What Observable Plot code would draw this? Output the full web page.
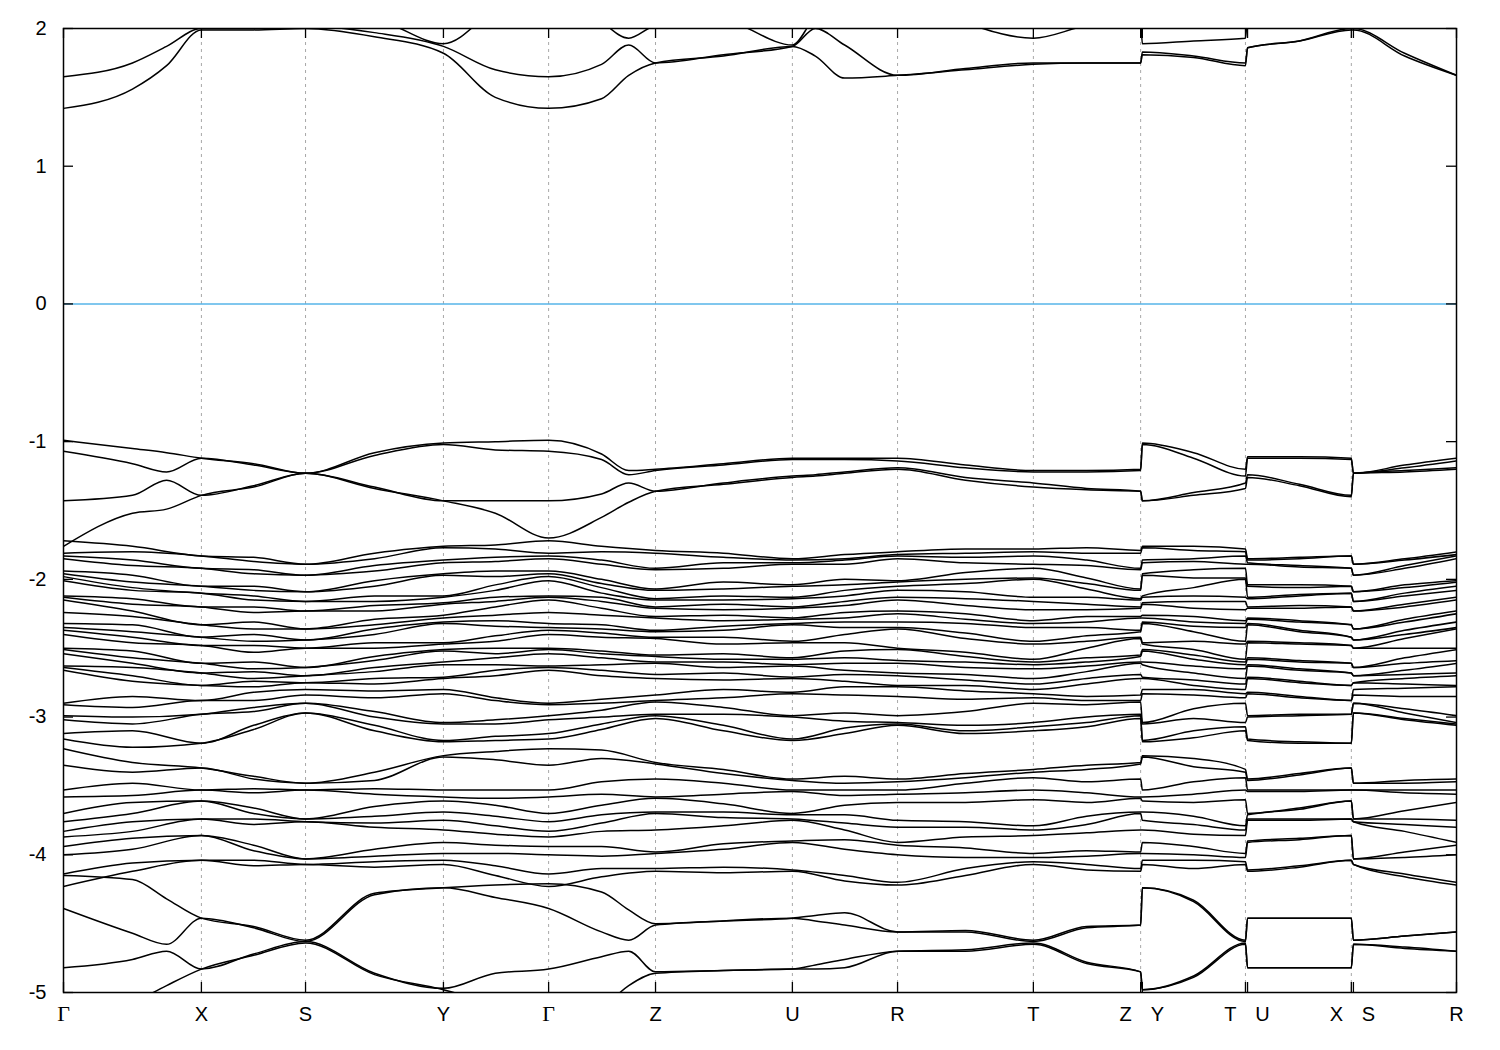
<!DOCTYPE html>
<html><head><meta charset="utf-8">
<script src="https://cdn.jsdelivr.net/npm/d3@7"></script>
<script src="https://cdn.jsdelivr.net/npm/@observablehq/plot@0.6"></script>
<style>html,body{margin:0;padding:0;background:#fff} svg{display:block}</style>
</head><body><div id="chart"></div>
<script>
// k-path knots (high-symmetry points and segment midpoints) for the dense group
const kKnots = [0, 0.198, 0.396, 0.546, 0.695, 0.893, 1.091, 1.240, 1.393, 1.545, 1.700, 1.895, 2.093, 2.243, 2.395, 2.590, 2.785, 2.938, 3.093, 3.098, 3.245, 3.394, 3.400, 3.549, 3.698, 3.704, 3.851, 4.000];
// finer knots for the isolated groups (three extra points: near X on Γ-X, near Z on Γ-Z, near U on U-R)
const kFine = [0, 0.198, 0.296, 0.396, 0.546, 0.695, 0.893, 1.091, 1.240, 1.393, 1.545, 1.623, 1.700, 1.895, 2.093, 2.159, 2.243, 2.395, 2.590, 2.785, 2.938, 3.093, 3.098, 3.245, 3.394, 3.400, 3.549, 3.698, 3.704, 3.851, 4.000];
const tickK = [0, 0.396, 0.695, 1.091, 1.393, 1.700, 2.093, 2.395, 2.785, 3.093, 3.098, 3.394, 3.400, 3.698, 3.704, 4.000];
const tickLabels = ["Γ","X","S","Y","Γ","Z","U","R","T","Z","Y","T","U","X","S","R"];
const labelSide = ["c","c","c","c","c","c","c","c","c","l","r","l","r","l","r","c"];
const gridK = [0.396, 0.695, 1.091, 1.393, 1.700, 2.093, 2.395, 2.785, 3.093, 3.394, 3.698];
const yTicks = [-5,-4,-3,-2,-1,0,1,2];

// conduction bands (eV), on kFine
const c1 = [1.42,1.56,1.73,1.99,1.99,2.00,1.94,1.82,1.50,1.42,1.49,1.66,1.75,1.80,1.87,1.80,1.64,1.66,1.70,1.74,1.75,1.75,1.81,1.79,1.73,1.86,1.91,1.99,1.99,1.80,1.66];
const c2 = [1.65,1.75,1.87,2.00,2.00,2.02,1.97,1.87,1.70,1.65,1.74,1.88,1.75,1.81,1.87,2.00,1.88,1.66,1.71,1.75,1.75,1.75,1.83,1.80,1.75,1.86,1.91,2.00,2.00,1.82,1.66];
const c3 = [2.40,2.25,2.12,2.05,2.06,2.08,2.06,1.89,2.15,2.40,2.05,1.93,2.02,2.05,1.88,2.08,2.15,2.25,2.04,1.93,2.02,2.05,1.89,1.91,1.93,2.08,2.10,2.05,2.05,2.20,2.25];

// top valence group, on kFine
const v1 = [-0.99,-1.05,-1.08,-1.12,-1.16,-1.23,-1.08,-1.01,-1.00,-0.99,-1.09,-1.21,-1.20,-1.16,-1.12,-1.12,-1.12,-1.12,-1.17,-1.21,-1.21,-1.20,-1.01,-1.08,-1.20,-1.11,-1.11,-1.12,-1.23,-1.17,-1.12];
const v2 = [-1.07,-1.16,-1.22,-1.12,-1.17,-1.23,-1.10,-1.02,-1.06,-1.07,-1.13,-1.24,-1.21,-1.17,-1.13,-1.13,-1.13,-1.14,-1.19,-1.22,-1.22,-1.21,-1.02,-1.12,-1.25,-1.12,-1.12,-1.13,-1.23,-1.19,-1.14];
const v3 = [-1.43,-1.39,-1.28,-1.39,-1.32,-1.23,-1.33,-1.43,-1.43,-1.43,-1.38,-1.30,-1.36,-1.30,-1.25,-1.24,-1.22,-1.19,-1.26,-1.30,-1.34,-1.36,-1.43,-1.37,-1.30,-1.24,-1.31,-1.39,-1.23,-1.21,-1.19];
const v4 = [-1.76,-1.52,-1.49,-1.39,-1.33,-1.23,-1.34,-1.43,-1.52,-1.70,-1.55,-1.44,-1.36,-1.31,-1.26,-1.25,-1.23,-1.20,-1.28,-1.33,-1.35,-1.36,-1.43,-1.39,-1.34,-1.26,-1.32,-1.40,-1.23,-1.22,-1.20];

// lowest group, on kFine
const b1 = [-4.15,-4.18,-4.32,-4.46,-4.52,-4.62,-4.28,-4.24,-4.22,-4.21,-4.27,-4.40,-4.50,-4.48,-4.46,-4.44,-4.42,-4.56,-4.55,-4.62,-4.52,-4.51,-4.24,-4.33,-4.62,-4.46,-4.46,-4.46,-4.62,-4.59,-4.56];
const b2 = [-4.39,-4.57,-4.65,-4.46,-4.53,-4.63,-4.29,-4.24,-4.31,-4.39,-4.56,-4.62,-4.51,-4.48,-4.46,-4.48,-4.51,-4.56,-4.56,-4.63,-4.53,-4.51,-4.24,-4.34,-4.63,-4.46,-4.46,-4.46,-4.62,-4.59,-4.56];
const b3 = [-4.82,-4.76,-4.70,-4.83,-4.72,-4.63,-4.86,-4.97,-4.86,-4.83,-4.74,-4.70,-4.85,-4.84,-4.83,-4.80,-4.76,-4.70,-4.69,-4.64,-4.78,-4.85,-4.98,-4.88,-4.64,-4.82,-4.82,-4.82,-4.65,-4.67,-4.70];
const b4 = [-5.35,-5.08,-4.95,-4.83,-4.73,-4.64,-4.87,-4.98,-5.10,-5.35,-5.12,-4.95,-4.86,-4.84,-4.83,-4.83,-4.82,-4.70,-4.70,-4.65,-4.79,-4.85,-4.98,-4.89,-4.65,-4.82,-4.82,-4.82,-4.65,-4.68,-4.70];

// dense group: energies at each knot of kKnots, sorted
const dG  = [-1.72,-1.81,-1.83,-1.85,-1.94,-1.96,-1.98,-2.01,-2.12,-2.13,-2.15,-2.24,-2.32,-2.35,-2.37,-2.40,-2.50,-2.51,-2.54,-2.63,-2.64,-2.66,-2.90,-2.91,-2.99,-3.02,-3.12,-3.16,-3.23,-3.35,-3.53,-3.58,-3.70,-3.76,-3.83,-3.87,-3.94,-4.00,-4.14,-4.23];
const dGX = [-1.76,-1.80,-1.86,-1.90,-1.97,-2.02,-2.06,-2.08,-2.14,-2.18,-2.23,-2.27,-2.33,-2.38,-2.42,-2.46,-2.52,-2.57,-2.61,-2.64,-2.70,-2.74,-2.85,-2.93,-3.00,-3.05,-3.10,-3.22,-3.33,-3.40,-3.48,-3.57,-3.62,-3.70,-3.76,-3.83,-3.88,-3.96,-4.06,-4.12];
const dX  = [-1.83,-1.83,-1.92,-1.92,-2.05,-2.05,-2.10,-2.10,-2.20,-2.20,-2.33,-2.33,-2.42,-2.42,-2.48,-2.48,-2.61,-2.61,-2.68,-2.68,-2.77,-2.77,-2.88,-2.88,-2.98,-2.98,-3.19,-3.19,-3.37,-3.37,-3.53,-3.53,-3.61,-3.61,-3.74,-3.74,-3.86,-3.86,-4.04,-4.04];
const dXS = [-1.84,-1.87,-1.93,-1.96,-2.05,-2.08,-2.12,-2.15,-2.20,-2.24,-2.31,-2.36,-2.40,-2.45,-2.48,-2.53,-2.60,-2.65,-2.67,-2.72,-2.74,-2.78,-2.82,-2.88,-2.93,-2.96,-3.06,-3.09,-3.43,-3.45,-3.52,-3.55,-3.66,-3.70,-3.74,-3.78,-3.93,-3.97,-4.04,-4.08];
const dS  = [-1.89,-1.89,-1.97,-1.97,-2.09,-2.09,-2.16,-2.16,-2.23,-2.23,-2.36,-2.36,-2.44,-2.44,-2.50,-2.50,-2.64,-2.64,-2.70,-2.70,-2.75,-2.75,-2.80,-2.84,-2.90,-2.90,-2.97,-2.97,-3.48,-3.48,-3.53,-3.53,-3.74,-3.74,-3.76,-3.76,-4.03,-4.03,-4.07,-4.07];
const dSY = [-1.81,-1.85,-1.90,-1.94,-2.01,-2.05,-2.12,-2.16,-2.19,-2.23,-2.29,-2.33,-2.36,-2.40,-2.46,-2.50,-2.56,-2.59,-2.64,-2.67,-2.72,-2.76,-2.81,-2.86,-2.96,-3.00,-3.06,-3.10,-3.40,-3.46,-3.52,-3.56,-3.65,-3.72,-3.77,-3.80,-3.96,-4.01,-4.05,-4.09];
const dY  = [-1.76,-1.77,-1.86,-1.88,-1.96,-1.97,-2.12,-2.13,-2.17,-2.18,-2.26,-2.28,-2.31,-2.32,-2.46,-2.47,-2.51,-2.52,-2.60,-2.62,-2.71,-2.72,-2.80,-2.83,-3.04,-3.05,-3.17,-3.18,-3.28,-3.29,-3.53,-3.58,-3.61,-3.69,-3.75,-3.82,-3.91,-3.99,-4.04,-4.07];
const dYG = [-1.75,-1.78,-1.84,-1.87,-1.94,-1.98,-2.04,-2.08,-2.13,-2.16,-2.20,-2.26,-2.30,-2.34,-2.41,-2.45,-2.50,-2.54,-2.57,-2.62,-2.66,-2.70,-2.86,-2.88,-3.02,-3.05,-3.14,-3.17,-3.25,-3.31,-3.53,-3.59,-3.64,-3.72,-3.79,-3.85,-3.93,-3.99,-4.08,-4.15];
const dGZ = [-1.76,-1.80,-1.86,-1.89,-2.00,-2.03,-2.06,-2.10,-2.13,-2.16,-2.21,-2.26,-2.33,-2.36,-2.39,-2.42,-2.52,-2.54,-2.57,-2.62,-2.66,-2.70,-2.87,-2.90,-2.95,-3.00,-3.05,-3.09,-3.24,-3.30,-3.47,-3.56,-3.64,-3.71,-3.77,-3.83,-3.94,-4.01,-4.10,-4.16];
const dZ  = [-1.79,-1.81,-1.92,-1.93,-2.07,-2.08,-2.14,-2.15,-2.20,-2.21,-2.27,-2.28,-2.37,-2.38,-2.42,-2.43,-2.55,-2.56,-2.60,-2.61,-2.69,-2.72,-2.84,-2.88,-2.89,-2.98,-2.99,-3.01,-3.33,-3.34,-3.45,-3.58,-3.59,-3.69,-3.70,-3.82,-3.98,-3.99,-4.10,-4.12];
const dZU = [-1.81,-1.84,-1.88,-1.92,-2.02,-2.07,-2.12,-2.15,-2.18,-2.22,-2.26,-2.30,-2.34,-2.37,-2.42,-2.47,-2.54,-2.58,-2.60,-2.64,-2.68,-2.73,-2.80,-2.86,-2.93,-2.98,-3.06,-3.10,-3.38,-3.41,-3.48,-3.56,-3.63,-3.69,-3.73,-3.79,-3.92,-3.96,-4.09,-4.13];
const dU  = [-1.85,-1.86,-1.88,-1.89,-2.04,-2.05,-2.13,-2.14,-2.20,-2.21,-2.28,-2.29,-2.32,-2.33,-2.45,-2.46,-2.57,-2.58,-2.62,-2.63,-2.71,-2.72,-2.82,-2.83,-2.99,-3.00,-3.16,-3.17,-3.45,-3.46,-3.53,-3.54,-3.70,-3.71,-3.74,-3.75,-3.90,-3.91,-4.11,-4.12];
const dUR = [-1.82,-1.85,-1.86,-1.89,-2.00,-2.04,-2.08,-2.12,-2.16,-2.19,-2.24,-2.28,-2.31,-2.35,-2.40,-2.46,-2.52,-2.57,-2.61,-2.66,-2.69,-2.74,-2.78,-2.84,-2.97,-3.03,-3.08,-3.12,-3.43,-3.48,-3.53,-3.57,-3.64,-3.71,-3.77,-3.82,-3.89,-3.96,-4.15,-4.19];
const dR  = [-1.80,-1.82,-1.83,-1.85,-2.01,-2.02,-2.05,-2.08,-2.13,-2.15,-2.23,-2.25,-2.31,-2.35,-2.36,-2.50,-2.51,-2.59,-2.61,-2.68,-2.70,-2.77,-2.78,-2.85,-2.99,-3.04,-3.05,-3.06,-3.45,-3.47,-3.53,-3.56,-3.62,-3.75,-3.80,-3.91,-3.93,-4.00,-4.20,-4.22];
const dRT = [-1.78,-1.81,-1.84,-1.88,-1.95,-2.00,-2.03,-2.09,-2.14,-2.19,-2.25,-2.29,-2.32,-2.39,-2.43,-2.53,-2.56,-2.60,-2.64,-2.69,-2.73,-2.77,-2.81,-2.87,-2.96,-3.06,-3.10,-3.12,-3.41,-3.44,-3.48,-3.55,-3.62,-3.76,-3.80,-3.87,-3.95,-4.02,-4.10,-4.15];
const dT  = [-1.78,-1.80,-1.83,-1.89,-1.92,-1.99,-2.00,-2.13,-2.16,-2.22,-2.30,-2.32,-2.35,-2.45,-2.47,-2.58,-2.60,-2.62,-2.65,-2.72,-2.76,-2.80,-2.83,-2.86,-2.90,-3.04,-3.07,-3.10,-3.38,-3.40,-3.44,-3.53,-3.60,-3.79,-3.82,-3.86,-3.99,-4.02,-4.05,-4.07];
const dTZ = [-1.77,-1.81,-1.86,-1.90,-1.99,-2.03,-2.07,-2.13,-2.18,-2.22,-2.27,-2.31,-2.35,-2.41,-2.45,-2.50,-2.57,-2.60,-2.63,-2.67,-2.72,-2.76,-2.85,-2.88,-2.91,-3.00,-3.04,-3.07,-3.35,-3.38,-3.47,-3.55,-3.62,-3.72,-3.78,-3.84,-3.97,-4.01,-4.07,-4.11];
const dYT = [-1.76,-1.79,-1.85,-1.87,-1.93,-1.99,-2.06,-2.12,-2.16,-2.21,-2.27,-2.31,-2.34,-2.38,-2.45,-2.51,-2.55,-2.58,-2.63,-2.68,-2.73,-2.77,-2.80,-2.84,-2.94,-3.01,-3.10,-3.15,-3.30,-3.36,-3.47,-3.56,-3.62,-3.72,-3.78,-3.85,-3.94,-4.00,-4.04,-4.10];
const dUX = [-1.84,-1.85,-1.90,-1.91,-2.04,-2.06,-2.11,-2.12,-2.19,-2.21,-2.30,-2.31,-2.37,-2.38,-2.46,-2.47,-2.59,-2.60,-2.65,-2.66,-2.74,-2.75,-2.85,-2.86,-2.98,-2.99,-3.18,-3.19,-3.41,-3.42,-3.53,-3.54,-3.66,-3.67,-3.74,-3.75,-3.88,-3.89,-4.08,-4.09];
const dSR = [-1.85,-1.86,-1.90,-1.92,-2.04,-2.06,-2.10,-2.12,-2.18,-2.20,-2.29,-2.31,-2.37,-2.40,-2.43,-2.50,-2.57,-2.61,-2.66,-2.69,-2.72,-2.76,-2.79,-2.85,-2.94,-2.97,-3.01,-3.02,-3.46,-3.48,-3.53,-3.55,-3.68,-3.74,-3.78,-3.83,-3.98,-4.02,-4.14,-4.16];

const denseAtKnots = [dG, dGX, dX, dXS, dS, dSY, dY, dYG, dG, dGZ, dZ, dZU, dU, dUR, dR, dRT, dT, dTZ, dZ, dY, dYT, dT, dU, dUX, dX, dS, dSR, dR];

// build table
const rows = [];
const nDense = Math.min(...denseAtKnots.map(a => a.length));
for (let b = 0; b < nDense; b++) {
  denseAtKnots.forEach((set, j) => rows.push({band: "d" + b, k: kKnots[j], e: set[b]}));
}
[c1, c2, c3, v1, v2, v3, v4, b1, b2, b3, b4].forEach((arr, i) => {
  arr.forEach((e, j) => rows.push({band: "g" + i, k: kFine[j], e}));
});

const labels = tickK.map((k, i) => ({k, t: tickLabels[i], side: labelSide[i]}));

const W = 1500, H = 1050, mL = 63, mR = 44, mT = 28, mB = 58;
const innerW = W - mL - mR, innerH = H - mT - mB;
const sans = "'Liberation Sans', Arial, Helvetica, sans-serif";
const serif = "'Liberation Serif', 'Times New Roman', 'DejaVu Serif', serif";

const chart = Plot.plot({
  width: W, height: H,
  marginLeft: mL, marginRight: mR, marginTop: mT, marginBottom: mB,
  style: {background: "#fff", fontFamily: sans, color: "black"},
  x: {domain: [0, 4], axis: null},
  y: {domain: [-5, 2], axis: null},
  marks: [
    Plot.ruleX(gridK, {stroke: "#a8a8a8", strokeWidth: 1, strokeDasharray: "3,4"}),
    Plot.ruleY([0], {stroke: "#56b4e9", strokeWidth: 1.4}),
    Plot.line(rows, {x: "k", y: "e", z: "band", curve: "monotone-x", stroke: "black", strokeWidth: 1.5, clip: true}),
    Plot.tickX(tickK, {x: d => d, insetTop: innerH - 10, stroke: "black", strokeWidth: 1.3}),
    Plot.tickX(tickK, {x: d => d, insetBottom: innerH - 10, stroke: "black", strokeWidth: 1.3}),
    Plot.tickY(yTicks, {y: d => d, insetRight: innerW - 10, stroke: "black", strokeWidth: 1.3}),
    Plot.tickY(yTicks, {y: d => d, insetLeft: innerW - 10, stroke: "black", strokeWidth: 1.3}),
    Plot.axisY({ticks: yTicks, tickSize: 0, tickPadding: 17, fontSize: 20, label: null, tickFormat: d => String(d)}),
    Plot.text(labels.filter(d => d.t === "Γ"), {x: "k", text: "t", frameAnchor: "bottom", dy: 28, fontSize: 22, fontFamily: serif}),
    Plot.text(labels.filter(d => d.t !== "Γ" && d.side === "c"), {x: "k", text: "t", frameAnchor: "bottom", dy: 28, fontSize: 20}),
    Plot.text(labels.filter(d => d.side === "l"), {x: "k", text: "t", frameAnchor: "bottom", dy: 28, dx: -15, fontSize: 20}),
    Plot.text(labels.filter(d => d.side === "r"), {x: "k", text: "t", frameAnchor: "bottom", dy: 28, dx: 15, fontSize: 20}),
    Plot.frame({stroke: "black", strokeWidth: 1.5})
  ]
});
document.getElementById("chart").appendChild(chart);
</script>
</body></html>
